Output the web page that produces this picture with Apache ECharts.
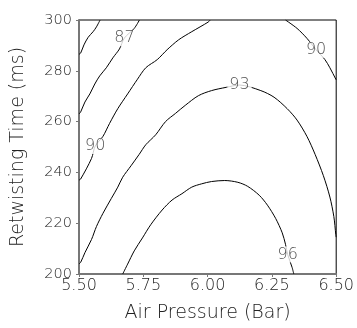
<!DOCTYPE html>
<html><head><meta charset="utf-8">
<script src="https://cdn.jsdelivr.net/npm/echarts@6/dist/echarts.min.js"></script>
<style>html,body{margin:0;padding:0;background:#fff}#c{width:357px;height:328px}</style>
</head><body><div id="c"></div>
<script>
const xTicks = [5.5, 5.75, 6.0, 6.25, 6.5];
const yTicks = [200, 220, 240, 260, 280, 300];

const c84 = [[5.5,286.5],[5.5065,287.0],[5.5192,290.2],[5.5357,293.2],[5.5549,295.4],[5.5679,297.3],[5.582,300]];
const c87 = [[5.5,263.0],[5.5065,263.8],[5.523,267.7],[5.5422,270.9],[5.5614,274.8],[5.5806,278.0],[5.6063,281.2],[5.6316,285.1],[5.6573,288.6],[5.6765,292.9],[5.7148,296.7],[5.735,300]];
const c90a = [[5.5,237.0],[5.5065,237.4],[5.5487,245.5],[5.5633,250.4],[5.5932,254.2],[5.6189,259.3],[5.6508,265.1],[5.6891,270.9],[5.7275,276.7],[5.7597,281.2],[5.8042,284.4],[5.8426,288.3],[5.8874,292.2],[5.9385,295.4],[6.0025,299.2],[6.01,300]];
const c90b = [[6.3029,300],[6.3478,296.7],[6.3861,292.8],[6.4218,288.3],[6.4563,284.4],[6.4755,281.2],[6.4985,276.7],[6.5,276.4]];
const c93 = [[5.5,204.0],[5.5065,204.6],[5.523,208.4],[5.5487,213.6],[5.5679,218.7],[5.5932,223.9],[5.6254,229.7],[5.6508,234.2],[5.6699,238.1],[5.7022,242.6],[5.734,247.1],[5.7597,250.9],[5.7981,254.8],[5.8364,260.0],[5.8748,263.2],[5.9131,266.4],[5.9642,270.2],[6.0152,272.2],[6.0727,273.5],[6.1241,274.4],[6.207,272.2],[6.2584,269.6],[6.3094,265.1],[6.3478,260.6],[6.3861,254.2],[6.418,247.1],[6.4502,238.7],[6.4755,230.3],[6.4909,222.6],[6.4985,215.5],[6.5,214.5]];
const c96 = [[5.67,200],[5.6891,203.9],[5.7148,209.1],[5.7467,214.2],[5.7789,219.4],[5.8234,225.2],[5.8617,229.1],[5.9001,231.6],[5.9385,234.2],[5.9768,235.5],[6.0152,236.4],[6.0666,236.8],[6.1176,236.1],[6.1559,234.5],[6.2008,231.0],[6.2327,227.1],[6.2645,221.9],[6.2902,216.2],[6.3029,211.7],[6.3113,207.7],[6.3286,202.6],[6.3351,200]];
const contourLabels = [[5.6765,292.9,'87'],[5.5633,250.4,'90'],[6.4218,288.3,'90'],[6.1241,274.4,'93'],[6.3113,207.7,'96']];

const lines = [c84, c87, c90a, c90b, c93, c96];
const gray = '#222';
const font = 'DejaVu Sans';
const fw = 200;
const series = lines.map(d => ({
  type: 'line', data: d, showSymbol: false, smooth: 0.3,
  lineStyle: {color: '#000', width: 1}, silent: true, clip: true
}));
series.push({
  type: 'scatter', data: contourLabels.map(l => ({value: [l[0], l[1]], name: l[2]})),
  symbolSize: 0, silent: true, z: 10,
  label: {show: true, position: 'inside', formatter: p => p.name, color: gray,
    fontFamily: font, fontWeight: fw, fontSize: 16, backgroundColor: '#fff', padding: [0, 2]}
});

const chart = echarts.init(document.getElementById('c'), null, {renderer: 'canvas'});
chart.setOption({
  animation: false,
  grid: {left: 79, right: 17.5, top: 20, bottom: 49.5, show: true, borderColor: '#000', borderWidth: 1, backgroundColor: 'transparent'},
  xAxis: {
    type: 'value', min: 5.5, max: 6.5, interval: 0.25,
    name: 'Air Pressure (Bar)', nameLocation: 'middle', nameGap: 30,
    nameTextStyle: {color: gray, fontFamily: font, fontWeight: fw, fontSize: 19},
    axisLine: {lineStyle: {color: '#777', width: 2}},
    axisTick: {length: 3, lineStyle: {color: '#777'}},
    splitLine: {show: false},
    axisLabel: {color: gray, fontFamily: font, fontWeight: fw, fontSize: 16, margin: 4,
      formatter: v => xTicks.includes(v) ? v.toFixed(2) : ''}
  },
  yAxis: {
    type: 'value', min: 200, max: 300, interval: 20,
    name: 'Retwisting Time (ms)', nameLocation: 'middle', nameGap: 51,
    nameTextStyle: {color: gray, fontFamily: font, fontWeight: fw, fontSize: 19},
    axisLine: {lineStyle: {color: '#777', width: 2}},
    axisTick: {length: 3, lineStyle: {color: '#777'}},
    splitLine: {show: false},
    axisLabel: {color: gray, fontFamily: font, fontWeight: fw, fontSize: 14.5, margin: 7,
      formatter: v => yTicks.includes(v) ? String(v) : ''}
  },
  series: series
});
</script></body></html>
